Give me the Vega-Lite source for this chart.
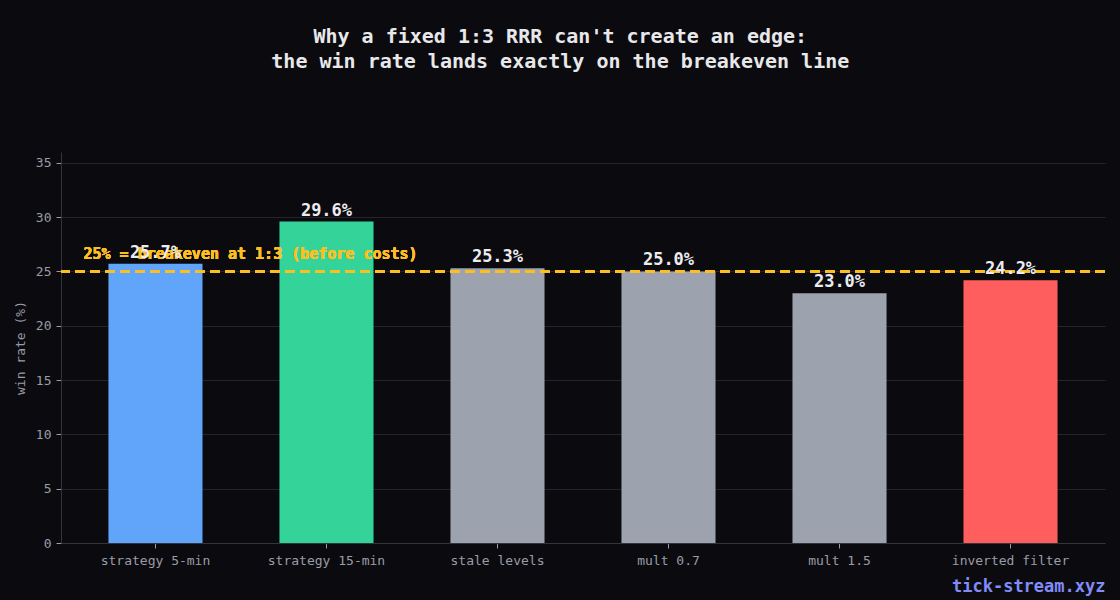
{
  "$schema": "https://vega.github.io/schema/vega-lite/v6.json",
  "autosize": {"type": "none"},
  "width": 1044,
  "height": 391,
  "padding": {"left": 61, "top": 152, "right": 15, "bottom": 57},
  "background": "#0b0b0f",
  "title": {
    "text": ["Why a fixed 1:3 RRR can't create an edge:", "the win rate lands exactly on the breakeven line"],
    "font": "DejaVu Sans Mono",
    "fontSize": 20,
    "fontWeight": "bold",
    "color": "#e8e8ea",
    "lineHeight": 25,
    "anchor": "middle",
    "frame": "bounds",
    "offset": 80
  },
  "data": {
    "values": [
      {"setup": "strategy 5-min", "rate": 25.7},
      {"setup": "strategy 15-min", "rate": 29.6},
      {"setup": "stale levels", "rate": 25.3},
      {"setup": "mult 0.7", "rate": 25.0},
      {"setup": "mult 1.5", "rate": 23.0},
      {"setup": "inverted filter", "rate": 24.2}
    ]
  },
  "config": {
    "view": {"stroke": null},
    "axis": {
      "labelFont": "DejaVu Sans Mono",
      "titleFont": "DejaVu Sans Mono",
      "labelColor": "#9a9ca6",
      "titleColor": "#9a9ca6",
      "labelFontSize": 13,
      "titleFontSize": 13,
      "titleFontWeight": "normal",
      "domainColor": "#34343c",
      "tickColor": "#9a9ca6",
      "tickSize": 5,
      "gridColor": "#24242a"
    }
  },
  "encoding": {
    "x": {
      "field": "setup",
      "type": "nominal",
      "sort": null,
      "scale": {"paddingInner": 0.45, "paddingOuter": 0.2775},
      "axis": {
        "labelAngle": 0,
        "labelPadding": 6,
        "title": "tick-stream.xyz",
        "titleColor": "#818cf8",
        "titleFontSize": 17,
        "titleFontWeight": "bold",
        "titleAnchor": "end",
        "titleAlign": "right",
        "titlePadding": 11
      }
    }
  },
  "layer": [
    {
      "mark": {"type": "bar"},
      "encoding": {
        "y": {
          "field": "rate",
          "type": "quantitative",
          "scale": {"domain": [0, 36], "nice": false},
          "axis": {"title": "win rate (%)", "values": [0, 5, 10, 15, 20, 25, 30, 35], "grid": true, "titlePadding": 8, "labelPadding": 5}
        },
        "color": {
          "field": "setup",
          "type": "nominal",
          "scale": {
            "domain": ["strategy 5-min", "strategy 15-min", "stale levels", "mult 0.7", "mult 1.5", "inverted filter"],
            "range": ["#60a5fa", "#34d399", "#9ca3af", "#9ca3af", "#9ca3af", "#ff5e5e"]
          },
          "legend": null
        }
      }
    },
    {
      "mark": {"type": "rule", "color": "#fbbf24", "strokeWidth": 2.5, "strokeDash": [10, 5]},
      "encoding": {"y": {"datum": 25, "type": "quantitative"}, "x": null}
    },
    {
      "mark": {
        "type": "text",
        "align": "left",
        "baseline": "alphabetic",
        "dx": -72,
        "dy": -12,
        "font": "DejaVu Sans Mono",
        "fontSize": 15,
        "fontWeight": "bold",
        "color": "#fbbf24"
      },
      "encoding": {
        "x": {"datum": "strategy 5-min", "type": "nominal"},
        "y": {"datum": 25, "type": "quantitative"},
        "text": {"value": "25% = breakeven at 1:3 (before costs)"}
      }
    },
    {
      "transform": [{"calculate": "format(datum.rate, '.1f') + '%'", "as": "label"}],
      "mark": {
        "type": "text",
        "align": "center",
        "baseline": "alphabetic",
        "dy": -6,
        "font": "DejaVu Sans Mono",
        "fontSize": 17,
        "fontWeight": "bold",
        "color": "#ececf0"
      },
      "encoding": {
        "y": {"field": "rate", "type": "quantitative"},
        "text": {"field": "label"}
      }
    }
  ]
}
